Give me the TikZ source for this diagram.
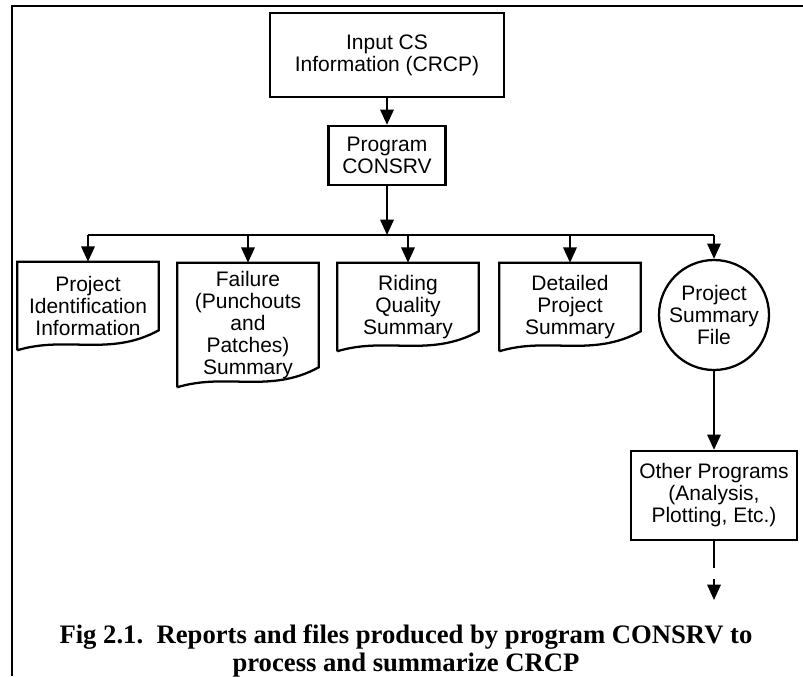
\documentclass[tikz,border=0pt]{standalone}
\usepackage{fontspec}
\setmainfont{Liberation Serif}
\setsansfont{Liberation Sans}
\usetikzlibrary{arrows.meta}

% report outline with the wavy lower edge
\newcommand{\docwave}[1]{%
  \draw [boxline] (#1.south west) -- (#1.north west) -- (#1.north east) -- ([yshift=-15pt]#1.south east) .. controls +(-49,27) and +(49,-15) .. (#1.south west) ;}

\begin{document}
\begin{tikzpicture}[x=0.75pt,y=0.75pt,yscale=-1,xscale=1,
  boxline/.style={line width=1.7pt},
  arr/.style={line width=1.7pt,-{Triangle[length=11.5pt,width=10pt]}},
  txt/.style={font=\sffamily\fontsize{15.75}{16.5}\selectfont,align=center,inner sep=0pt},
  progbox/.style={txt,draw,boxline},
  docbox/.style={txt,text width=105.75pt,minimum height=66pt},
  filecirc/.style={txt,draw,boxline,circle,minimum size=82.5pt}]
\useasboundingbox (0,0) rectangle (803,676);

%Frame
\draw [boxline] (803,6) -- (12,6) -- (12,676) ;

%Shape: Rectangle
\node [progbox,minimum width=175.5pt,minimum height=63pt] (input) at (387,55) {Input CS\\Information (CRCP)};
%Shape: Rectangle
\node [progbox,minimum width=87.75pt,minimum height=44.25pt] (consrv) at (387,155.5) {Program\\CONSRV};
\coordinate (bus) at (387,235);

%Shape: Reports
\node [docbox] (ident) at (88,306) {Project\\Identification\\Information};
\node [docbox,minimum height=93pt] (failure) at (248,325) {Failure\\(Punchouts\\and\\Patches)\\Summary};
\node [docbox] (riding) at (408,307) {Riding\\Quality\\Summary};
\node [docbox] (detail) at (570,307) {Detailed\\Project\\Summary};
\docwave{ident}
\docwave{failure}
\docwave{riding}
\docwave{detail}

%Shape: Circle
\node [filecirc] (sumfile) at (714,315) {Project\\Summary\\File};
%Shape: Rectangle
\node [progbox,minimum width=124.5pt,minimum height=66.75pt] (other) at (714,495.5) {Other Programs\\(Analysis,\\Plotting, Etc.)};
\coordinate (more) at (714,600);

%Straight Lines
\draw [arr] (input) -- (consrv) ;
\draw [arr] (consrv) -- (consrv |- bus) ;
\draw [boxline] (ident.north |- bus) -- (sumfile.north |- bus) ;
\foreach \n in {ident,failure,riding,detail,sumfile}
  \draw [arr] (\n.north |- bus) -- (\n.north) ;
\draw [arr] (sumfile) -- (other) ;
\draw [arr,dash pattern={on 20.25pt off 8.25pt}] (other) -- (more) ;

% Text Node
\node [font=\bfseries\fontsize{20}{21}\selectfont,align=center,inner sep=0pt] (caption) at (406,651) {Fig 2.1.\ \ Reports and files produced by program CONSRV to\\process and summarize CRCP};

\end{tikzpicture}
\end{document}
